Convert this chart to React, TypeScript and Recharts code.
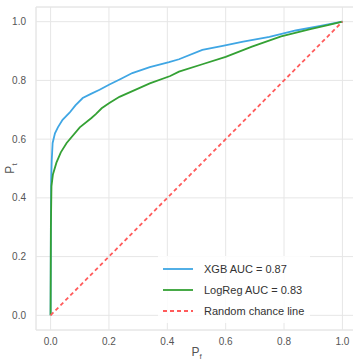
import React from 'react';
import {
  LineChart, Line, XAxis, YAxis, CartesianGrid, ReferenceArea,
} from 'recharts';

// false positive rate (x) / true positive rate (y)
const xgbFpr = [0, 0.001, 0.002, 0.004, 0.007, 0.015, 0.025, 0.041, 0.065, 0.085, 0.11, 0.14, 0.168, 0.2, 0.24, 0.28, 0.34, 0.406, 0.44, 0.52, 0.59, 0.66, 0.75, 0.84, 0.92, 1.0];
const xgbTpr = [0, 0.3, 0.46, 0.53, 0.587, 0.62, 0.64, 0.666, 0.69, 0.715, 0.74, 0.755, 0.768, 0.785, 0.805, 0.825, 0.845, 0.862, 0.872, 0.904, 0.918, 0.932, 0.948, 0.97, 0.985, 1.0];

const lrFpr = [0, 0.001, 0.003, 0.008, 0.02, 0.035, 0.055, 0.1, 0.14, 0.155, 0.175, 0.2, 0.236, 0.29, 0.34, 0.41, 0.44, 0.52, 0.6, 0.69, 0.79, 0.89, 0.95, 1.0];
const lrTpr = [0, 0.3, 0.44, 0.48, 0.52, 0.555, 0.587, 0.64, 0.672, 0.685, 0.705, 0.722, 0.744, 0.768, 0.79, 0.815, 0.83, 0.855, 0.88, 0.915, 0.95, 0.975, 0.988, 1.0];

const chanceX = [0, 1];
const chanceY = [0, 1];

const ticks = [0, 0.2, 0.4, 0.6, 0.8, 1.0];

const toPoints = (xs: number[], ys: number[]) => xs.map((x, i) => ({ x, y: ys[i] }));

const SERIES = [
  { name: 'XGB AUC = 0.87', color: '#3fa6e4', dash: undefined, data: toPoints(xgbFpr, xgbTpr) },
  { name: 'LogReg AUC = 0.83', color: '#34a134', dash: undefined, data: toPoints(lrFpr, lrTpr) },
  { name: 'Random chance line', color: '#ff5b5b', dash: '4 3', data: toPoints(chanceX, chanceY) },
];

const FONT = '"Liberation Sans", Arial, sans-serif';

const LegendBox = () => (
  <div style={{
    position: 'absolute', left: 158, top: 256,
    background: 'rgba(255,255,255,0.85)', padding: '2px 6px 2px 4px',
    fontFamily: FONT, fontSize: 11, color: '#333',
  }}>
    {SERIES.map((s) => (
      <div key={s.name} style={{ display: 'flex', alignItems: 'center', height: 21 }}>
        <svg width={32} height={6} style={{ marginRight: 10 }}>
          <line x1={1} y1={3} x2={31} y2={3} stroke={s.color} strokeWidth={1.8} strokeDasharray={s.dash} />
        </svg>
        <span>{s.name}</span>
      </div>
    ))}
  </div>
);

const tickStyle = { fill: '#555', fontSize: 10, fontFamily: FONT };

const XLabel = ({ viewBox }: any) => (
  <text x={viewBox.x + viewBox.width / 2} y={viewBox.y + 26} textAnchor="middle" fill="#555" fontSize={12} fontFamily={FONT}>
    P<tspan fontSize={8} dy={3}>f</tspan>
  </text>
);

const YLabel = ({ viewBox }: any) => {
  const cx = 14;
  const cy = viewBox.y + viewBox.height / 2;
  return (
    <text x={cx} y={cy} transform={`rotate(-90 ${cx} ${cy})`} textAnchor="middle" fill="#555" fontSize={12} fontFamily={FONT}>
      P<tspan fontSize={8} dy={3}>t</tspan>
    </text>
  );
};

export default function App() {
  return (
    <div style={{ position: 'absolute', left: 0, top: 0, width: 353, height: 360, overflow: 'hidden', background: '#fff' }}>
      <LineChart width={360} height={360} margin={{ top: 7, right: 3, bottom: 10, left: 6 }}>
        <CartesianGrid stroke="#e6e6e6" strokeWidth={1} />
        <ReferenceArea x1={-0.05} x2={1.05} y1={-0.05} y2={1.05} fill="none" stroke="#e6e6e6" ifOverflow="visible" />
        <XAxis
          type="number" dataKey="x" domain={[-0.05, 1.05]} ticks={ticks}
          tickFormatter={(v: number) => v.toFixed(1)}
          tick={tickStyle} tickLine={false} axisLine={false} height={20} tickMargin={2}
          label={<XLabel />}
        />
        <YAxis
          type="number" dataKey="y" domain={[-0.05, 1.05]} ticks={ticks}
          tickFormatter={(v: number) => v.toFixed(1)}
          tick={tickStyle} tickLine={false} axisLine={false} width={30} tickMargin={4}
          label={<YLabel />}
        />
        {SERIES.map((s) => (
          <Line
            key={s.name}
            data={s.data}
            dataKey="y"
            name={s.name}
            type="linear"
            stroke={s.color}
            strokeWidth={1.8}
            strokeDasharray={s.dash}
            dot={false}
            isAnimationActive={false}
          />
        ))}
      </LineChart>
      <LegendBox />
    </div>
  );
}
